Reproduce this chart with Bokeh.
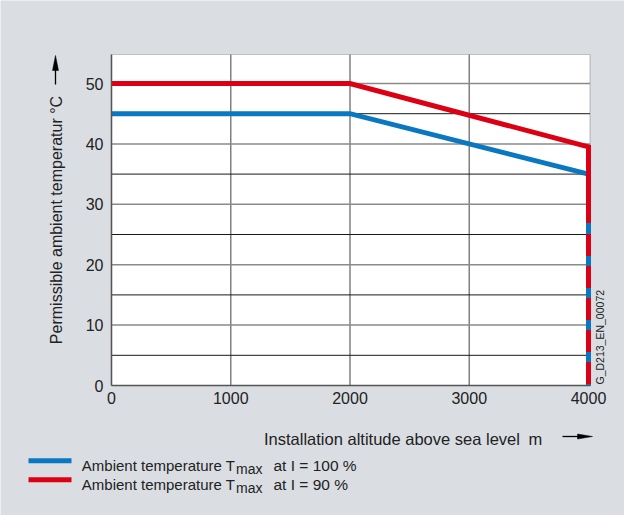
import math
from bokeh.plotting import figure
from bokeh.models import Label, BoxAnnotation, FixedTicker, Range1d
from bokeh.embed import file_html
from bokeh.resources import INLINE

# ---- data ----
altitude = [0, 2000, 4000, 4000]
temp_i100 = [45, 45, 35, 0]
temp_i90 = [50, 50, 39.5, 0]
# lower part of the I = 90 % curve at 4000 m is dashed, showing the blue curve beneath
red_solid_until = 26.9
red_dash_from = 25.1

x_ticks = [0, 1000, 2000, 3000, 4000]
y_ticks = [0, 10, 20, 30, 40, 50]
y_grid_major = [10, 20, 30, 40, 50]
y_grid_minor = [5, 15, 25, 35, 45]
x_grid = [1000, 2000, 3000]

legend_labels = ["Ambient temperature T", "Ambient temperature T"]
legend_sub = "max"
legend_tail = ["at I = 100 %", "at I = 90 %"]

BLUE = "#0a78c0"
RED = "#dc0014"
BG = "#dadee2"
TXT = "#222222"
FONT = "Liberation Sans"

# ---- page-pixel geometry of the plot area ----
PX0, PY0 = 119.0, 393.0          # page position of (0, 0)
SX, SY = 477.0 / 4000, 6.04      # pixels per data unit
W, H = 624, 515


def dx(X):
    return (X - PX0) / SX


def dy(Y):
    return (PY0 - Y) / SY


x_lo, x_hi = dx(8), dx(8 + W)
y_lo, y_hi = dy(8 + H), dy(8)
area_right, area_top = dx(597.5), dy(62)

p = figure(width=W, height=H, x_range=Range1d(x_lo, x_hi), y_range=Range1d(y_lo, y_hi),
           output_backend="svg", toolbar_location=None, min_border=0)
p.background_fill_color = BG
p.border_fill_color = BG
p.outline_line_color = None
p.xgrid.visible = False
p.ygrid.visible = False

# white plot area with frame
p.add_layout(BoxAnnotation(left=0, right=area_right, bottom=0, top=area_top,
                           fill_color="white", fill_alpha=1, line_color="#555555",
                           line_width=1.2, level="image"))

# grid lines
p.segment(x0=x_grid, y0=0, x1=x_grid, y1=area_top, line_color="#808080",
          line_width=1.5, level="underlay")
p.segment(x0=0, y0=y_grid_major, x1=area_right, y1=y_grid_major, line_color="#8a8a8a",
          line_width=1.5, level="underlay")
p.segment(x0=0, y0=y_grid_minor, x1=area_right, y1=y_grid_minor, line_color="#1a1a1a",
          line_width=1, level="underlay")

# axes at the data origin
p.xaxis.fixed_location = 0
p.yaxis.fixed_location = 0
p.xaxis.bounds = (0, area_right)
p.yaxis.bounds = (0, area_top)
for ax, ticks in ((p.xaxis[0], x_ticks), (p.yaxis[0], y_ticks)):
    ax.ticker = FixedTicker(ticks=ticks)
    ax.major_label_text_font_size = "16px"
    ax.major_label_text_font = FONT
    ax.major_label_text_color = TXT
    ax.axis_line_color = "#555555"
    ax.axis_line_width = 1.5
    ax.major_tick_line_color = None
    ax.minor_tick_line_color = None
    ax.major_tick_out = 0
    ax.major_tick_in = 0
    ax.minor_tick_out = 0
    ax.minor_tick_in = 0
p.xaxis.major_label_standoff = 6
p.yaxis.major_label_standoff = 8

# curves
p.line(altitude, temp_i100, line_color=BLUE, line_width=5, line_join="miter")
p.line(altitude[:3] + [altitude[3]], temp_i90[:3] + [red_solid_until],
       line_color=RED, line_width=5, line_join="miter")
p.line([altitude[3], altitude[3]], [red_dash_from, temp_i90[3]],
       line_color=RED, line_width=5, line_dash="22 10")

# axis titles and arrows
p.add_layout(Label(x=dx(63.5), y=dy(227.5), text="Permissible ambient temperatur °C",
                   angle=math.pi / 2, text_align="center", text_baseline="middle",
                   text_font=FONT, text_font_size="16px", text_color=TXT))
p.add_layout(Label(x=dx(271.5), y=dy(446), text="Installation altitude above sea level",
                   text_align="left", text_baseline="alphabetic",
                   text_font=FONT, text_font_size="16.5px", text_color=TXT))
p.add_layout(Label(x=dx(536), y=dy(446), text="m", text_align="left",
                   text_baseline="alphabetic", text_font=FONT,
                   text_font_size="16.5px", text_color=TXT))

# y arrow
p.line([dx(63), dx(63)], [dy(92), dy(76)], line_color="black", line_width=1.3)
p.patch([dx(60), dx(63), dx(66)], [dy(78), dy(63), dy(78)], fill_color="black",
        line_color="black", line_width=0.5)
# x arrow
p.line([dx(570), dx(587)], [dy(444), dy(444)], line_color="black", line_width=1.3)
p.patch([dx(585), dx(600), dx(585)], [dy(441.5), dy(444), dy(446.5)], fill_color="black",
        line_color="black", line_width=0.5)

# drawing id
p.add_layout(Label(x=dx(607), y=dy(392), text="G_D213_EN_00072", angle=math.pi / 2,
                   text_align="left", text_baseline="middle",
                   text_font=FONT, text_font_size="10.5px", text_color=TXT))

# legend
for i, (col, lab, tail) in enumerate(zip([BLUE, RED], legend_labels, legend_tail)):
    ly = 468.3 + i * 19
    base = 473.3 + i * 18.7
    p.line([dx(36), dx(79)], [dy(ly), dy(ly)], line_color=col, line_width=5)
    p.add_layout(Label(x=dx(89.3), y=dy(base), text=lab, text_align="left",
                       text_baseline="alphabetic", text_font=FONT,
                       text_font_size="15px", text_color=TXT))
    p.add_layout(Label(x=dx(243.5), y=dy(base + 3), text=legend_sub, text_align="left",
                       text_baseline="alphabetic", text_font=FONT,
                       text_font_size="14px", text_color=TXT))
    p.add_layout(Label(x=dx(281), y=dy(base), text=tail, text_align="left",
                       text_baseline="alphabetic", text_font=FONT,
                       text_font_size="15.5px", text_color=TXT))

open("out.html", "w").write(file_html(p, INLINE))
